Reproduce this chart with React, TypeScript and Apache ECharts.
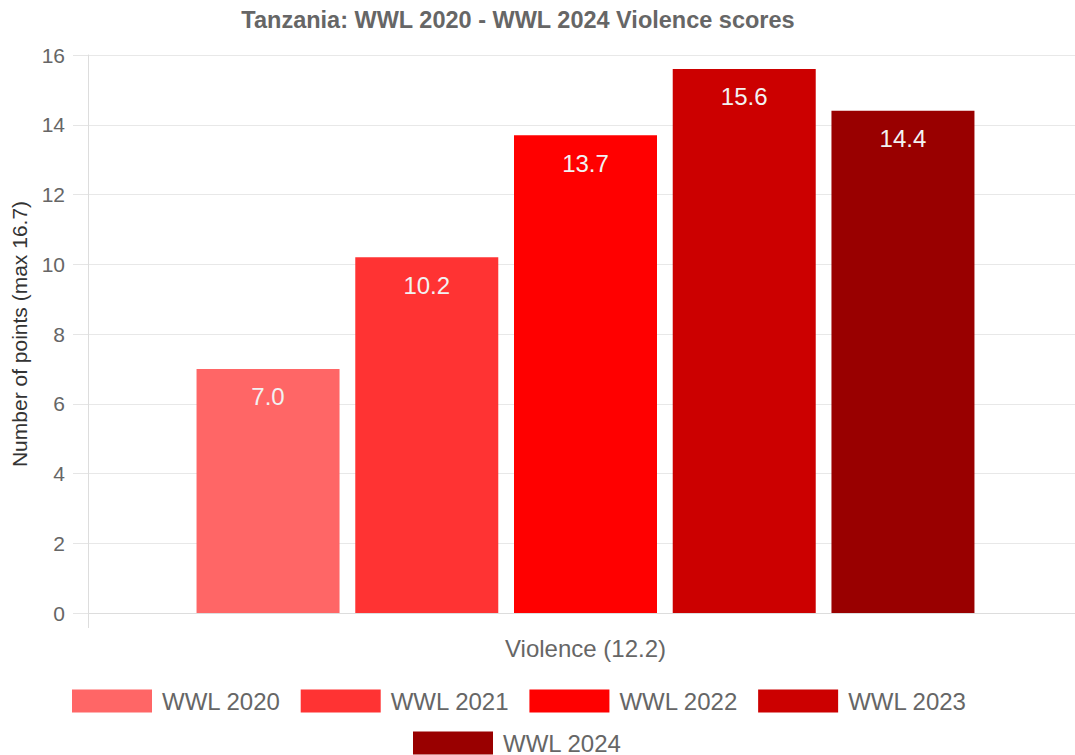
import React, { useEffect, useRef } from "react";
import * as echarts from "echarts";

const categories = ["Violence (12.2)"];
const seriesNames = ["WWL 2020", "WWL 2021", "WWL 2022", "WWL 2023", "WWL 2024"];
const seriesValues = [7.0, 10.2, 13.7, 15.6, 14.4];
const seriesColors = ["#ff6666", "#ff3333", "#ff0000", "#cc0000", "#990000"];
const yTicks = { min: 0, max: 16, interval: 2 };

export default function App() {
  const ref = useRef<HTMLDivElement>(null);
  useEffect(() => {
    if (!ref.current) return;
    const chart = echarts.init(ref.current, undefined, { renderer: "svg" });
    const font = "Liberation Sans, Arial, sans-serif";
    const legendCommon = {
      itemWidth: 80,
      itemHeight: 23,
      itemGap: 20,
      icon: "rect",
      orient: "horizontal",
      textStyle: { fontFamily: font, fontSize: 24, color: "#666", padding: [0, 0, 0, 5] },
    };
    chart.setOption({
      animation: false,
      title: {
        text: "Tanzania: WWL 2020 - WWL 2024 Violence scores",
        left: 513,
        textAlign: "center",
        top: 3,
        textStyle: { fontFamily: font, fontSize: 23.5, fontWeight: "bold", color: "#666" },
      },
      legend: [
        { ...legendCommon, data: seriesNames.slice(0, 4), top: 684, left: 67 },
        { ...legendCommon, data: seriesNames.slice(4), top: 726, left: 408 },
      ],
      grid: { left: 88, right: 0, top: 55, bottom: 142, containLabel: false },
      xAxis: {
        type: "category",
        data: categories,
        axisLine: { show: true, lineStyle: { color: "#ddd" } },
        axisTick: { show: true, length: 15, lineStyle: { color: "#ddd" } },
        axisLabel: { margin: 23, fontFamily: font, fontSize: 24, color: "#666" },
      },
      yAxis: {
        type: "value",
        min: yTicks.min,
        max: yTicks.max,
        interval: yTicks.interval,
        name: "Number of points (max 16.7)",
        nameLocation: "middle",
        nameGap: 58,
        nameTextStyle: { fontFamily: font, fontSize: 21, color: "#333" },
        axisLine: { show: true, lineStyle: { color: "#ddd" } },
        axisTick: { show: true, length: 15, lineStyle: { color: "#e5e5e5" } },
        axisLabel: { margin: 23, fontFamily: font, fontSize: 21, color: "#666" },
        splitLine: { lineStyle: { color: "#e8e8e8" } },
      },
      series: seriesNames.map((name, i) => ({
        name,
        type: "bar",
        data: [seriesValues[i]],
        barWidth: 143,
        barGap: "11%",
        itemStyle: { color: seriesColors[i] },
        label: {
          show: true,
          position: "insideTop",
          distance: 16,
          formatter: (p: any) => Number(p.value).toFixed(1),
          fontFamily: font,
          fontSize: 24,
          color: "#f2f2f2",
        },
      })),
    });
    return () => chart.dispose();
  }, []);
  return (
    <div
      style={{ position: "fixed", left: 0, top: 0, width: 1075, height: 755, overflow: "hidden", background: "#fff" }}
    >
      <div ref={ref} style={{ width: 1083, height: 755 }} />
    </div>
  );
}
